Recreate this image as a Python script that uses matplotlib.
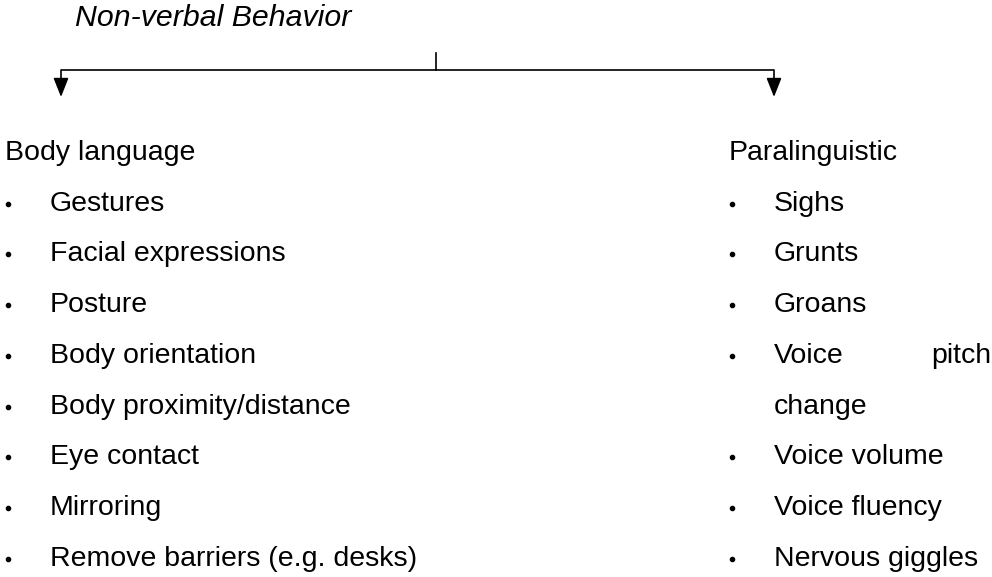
import matplotlib
matplotlib.use("Agg")
import matplotlib.pyplot as plt

title = "Non-verbal Behavior"
left_heading = "Body language"
left_items = ["Gestures", "Facial expressions", "Posture", "Body orientation",
              "Body proximity/distance", "Eye contact", "Mirroring",
              "Remove barriers (e.g. desks)"]
right_heading = "Paralinguistic"
# each item: list of lines; a line may be justified (two parts)
right_items = [["Sighs"], ["Grunts"], ["Groans"], [("Voice", "pitch"), "change"],
               ["Voice volume"], ["Voice fluency"], ["Nervous giggles"]]

W, H = 992, 577
FS = 20.5
FONT = "Liberation Sans"

fig = plt.figure(figsize=(W / 100, H / 100), dpi=100)
ax = fig.add_axes([0, 0, 1, 1])
ax.set_xlim(0, W)
ax.set_ylim(H, 0)
ax.axis("off")

# title
ax.text(75, 26, title, fontsize=21.8, style="italic", family=FONT,
        va="baseline", ha="left", color="black")

# connector lines
line_y = 70
x_left, x_right, x_mid = 61, 774, 435.5
lw = 1.2
ax.plot([x_left, x_right], [line_y, line_y], color="black", lw=lw,
        solid_capstyle="butt")
ax.plot([x_mid, x_mid], [53, line_y], color="black", lw=lw)
for xa in (x_left, x_right):
    ax.annotate("", xy=(xa, 97), xytext=(xa, line_y),
                arrowprops=dict(arrowstyle="-|>,head_length=0.58,head_width=0.23",
                                mutation_scale=20, lw=lw, color="black",
                                shrinkA=0, shrinkB=0))

base0 = 160
step = 50.7

def draw_column(x_head, x_bullet, x_text, heading, items, right_edge=None):
    ax.text(x_head, base0, heading, fontsize=FS, family=FONT,
            va="baseline", ha="left", color="black")
    row = 1
    for item in items:
        for j, line in enumerate(item):
            y = base0 + step * row
            if j == 0:
                ax.plot([x_bullet], [y - 7], marker="o", ms=3.0, color="black",
                        linestyle="none")
            if isinstance(line, tuple):
                ax.text(x_text, y, line[0], fontsize=FS, family=FONT,
                        va="baseline", ha="left", color="black")
                ax.text(right_edge, y, line[1], fontsize=FS, family=FONT,
                        va="baseline", ha="right", color="black")
            else:
                ax.text(x_text, y, line, fontsize=FS, family=FONT,
                        va="baseline", ha="left", color="black")
            row += 1

left_lines = [[s] for s in left_items]
draw_column(5, 7.5, 50, left_heading, left_lines)
draw_column(729, 732, 774, right_heading, right_items, right_edge=991)

fig.savefig("out.png", dpi=100, facecolor="white")
